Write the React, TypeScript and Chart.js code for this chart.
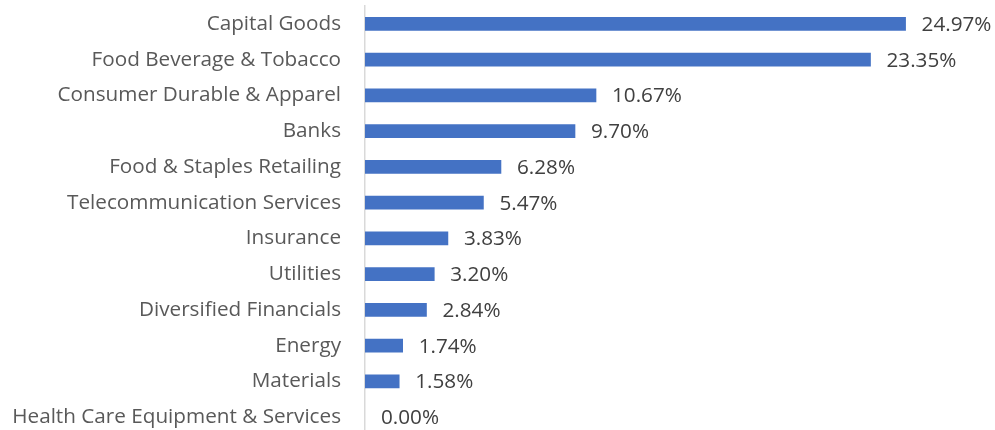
import React, { useEffect, useRef } from "react";
import { Chart, registerables } from "chart.js";

Chart.register(...registerables);

const categories = [
  "Capital Goods",
  "Food Beverage & Tobacco",
  "Consumer Durable & Apparel",
  "Banks",
  "Food & Staples Retailing",
  "Telecommunication Services",
  "Insurance",
  "Utilities",
  "Diversified Financials",
  "Energy",
  "Materials",
  "Health Care Equipment & Services",
];

const weights = [24.97, 23.35, 10.67, 9.7, 6.28, 5.47, 3.83, 3.2, 2.84, 1.74, 1.58, 0.0];

const FONT = "'Open Sans', sans-serif";
const FONT_SIZE = 20.7;

const valueLabels = {
  id: "valueLabels",
  afterDatasetsDraw(chart: any) {
    const ctx = chart.ctx;
    const meta = chart.getDatasetMeta(0);
    ctx.save();
    ctx.font = `${FONT_SIZE}px ${FONT}`;
    ctx.fillStyle = "#404040";
    ctx.textAlign = "left";
    ctx.textBaseline = "middle";
    meta.data.forEach((bar: any, i: number) => {
      const v = weights[i];
      ctx.fillText(v.toFixed(2) + "%", bar.x + 16, bar.y + 1);
    });
    ctx.restore();
  },
};

export default function App() {
  const ref = useRef<HTMLCanvasElement | null>(null);
  useEffect(() => {
    document.body.style.margin = "0";
    const chart = new Chart(ref.current as HTMLCanvasElement, {
      type: "bar",
      data: {
        labels: categories,
        datasets: [
          {
            data: weights,
            backgroundColor: weights.map((v) => (v > 0 ? "#4472C4" : "rgba(0,0,0,0)")),
            barThickness: 13,
          },
        ],
      },
      options: {
        indexAxis: "y",
        animation: false,
        responsive: false,
        maintainAspectRatio: false,
        layout: { padding: { top: 6, left: 0, right: 0, bottom: 0 } },
        plugins: { legend: { display: false }, tooltip: { enabled: false } },
        scales: {
          x: {
            min: 0,
            max: 29.1,
            display: false,
          },
          y: {
            afterFit(scale: any) {
              scale.width = 365;
              scale.paddingTop = 0;
              scale.paddingBottom = 0;
            },
            grid: { display: false, drawTicks: false },
            border: { display: true, color: "#D9D9D9", width: 1.5 },
            ticks: {
              padding: 24,
              color: "#595959",
              font: { family: FONT, size: FONT_SIZE },
            },
          },
        },
      },
      plugins: [valueLabels],
    });
    return () => chart.destroy();
  }, []);
  return (
    <div style={{ position: "fixed", left: 0, top: 0, width: 995, height: 430, overflow: "hidden", background: "#fff" }}>
      <canvas ref={ref} width={995} height={435} style={{ width: 995, height: 435, display: "block" }} />
    </div>
  );
}
